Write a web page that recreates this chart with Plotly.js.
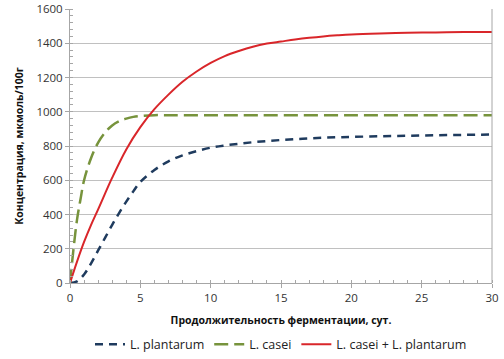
<!DOCTYPE html>
<html>
<head>
<meta charset="utf-8">
<script src="https://cdn.plot.ly/plotly-3.0.1.min.js"></script>
<style>html,body{margin:0;padding:0;background:#fff}#chart{width:504px;height:359px}</style>
</head>
<body>
<div id="chart"></div>
<script>
var seriesNames = ["L. plantarum", "L. casei", "L. casei + L. plantarum"];

var plantarumDays = [0,0.5,1,1.5,2,2.5,3,3.5,4,4.5,5,6,7,8,9,10,11,12,13,14,15,16,17,18,19,20,22,24,26,28,30];
var plantarumValues = [0,10,50,115,190,265,340,410,475,535,590,660,710,745,770,790,803,813,822,829,835,840,844,848,851,853,857,860,863,865,867];

var caseiDays = [0,0.25,0.5,0.75,1,1.5,2,2.5,3,3.5,4,4.5,5,6,7,8,10,12,15,20,25,30];
var caseiValues = [0,200,370,490,600,730,820,880,920,945,960,970,975,980,980,980,980,980,980,980,980,980];

var mixDays = [0,0.5,1,1.5,2,3,4,5,6,7,8,9,10,11,12,13,14,15,16,17,18,19,20,22,24,26,28,30];
var mixValues = [0,125,240,340,430,615,780,910,1015,1100,1175,1235,1285,1325,1355,1380,1398,1410,1422,1432,1440,1446,1451,1457,1461,1463,1465,1466];

var xTitle = "Продолжительность ферментации, сут.";
var yTitle = "Концентрация, мкмоль/100г";

var traces = [
  {x: plantarumDays, y: plantarumValues, name: seriesNames[0], mode: "lines", line: {color: "#1f3b5e", width: 2.5, dash: "8px,6px", shape: "spline"}},
  {x: caseiDays, y: caseiValues, name: seriesNames[1], mode: "lines", line: {color: "#77933c", width: 2.5, dash: "14px,6px", shape: "spline"}},
  {x: mixDays, y: mixValues, name: seriesNames[2], mode: "lines", line: {color: "#d9262a", width: 2, shape: "spline"}}
];

var layout = {
  width: 504, height: 359,
  margin: {l: 70, r: 12, t: 9, b: 76, autoexpand: false},
  paper_bgcolor: "#fff", plot_bgcolor: "#fff",
  font: {family: "Open Sans, Liberation Sans, Arial, sans-serif", size: 11, color: "#222"},
  showlegend: true,
  legend: {orientation: "h", x: 0.5, xanchor: "center", y: -0.17, yanchor: "top", font: {size: 12.5, color: "#222"}, traceorder: "normal", itemwidth: 30},
  xaxis: {
    range: [0, 30], dtick: 5, tick0: 0,
    showgrid: false, zeroline: false, automargin: false,
    showline: true, linecolor: "#a6a6a6", linewidth: 1, mirror: false,
    ticks: "outside", ticklen: 4, tickcolor: "#a6a6a6",
    minor: {dtick: 1, ticks: "inside", ticklen: 3, tickcolor: "#a6a6a6", showgrid: false},
    tickfont: {size: 11.5, color: "#333"},
    title: {text: xTitle, font: {size: 10.5, color: "#111", weight: "bold"}, standoff: 12}
  },
  yaxis: {
    range: [0, 1600], dtick: 200, tick0: 0,
    showgrid: true, gridcolor: "#c0c0c0", gridwidth: 1, zeroline: false, automargin: false,
    showline: true, linecolor: "#a6a6a6", linewidth: 1,
    ticks: "outside", ticklen: 4, tickcolor: "#a6a6a6",
    minor: {dtick: 40, ticks: "inside", ticklen: 3, tickcolor: "#a6a6a6", showgrid: false},
    tickfont: {size: 11.5, color: "#333"},
    title: {text: yTitle, font: {size: 10.5, color: "#111", weight: "bold"}, standoff: 10}
  },
  shapes: [
    {type: "line", xref: "paper", yref: "paper", x0: 1, x1: 1, y0: 0, y1: 1, line: {color: "#a6a6a6", width: 1}}
  ]
};

Plotly.newPlot("chart", traces, layout, {staticPlot: true, displayModeBar: false});
</script>
</body>
</html>
